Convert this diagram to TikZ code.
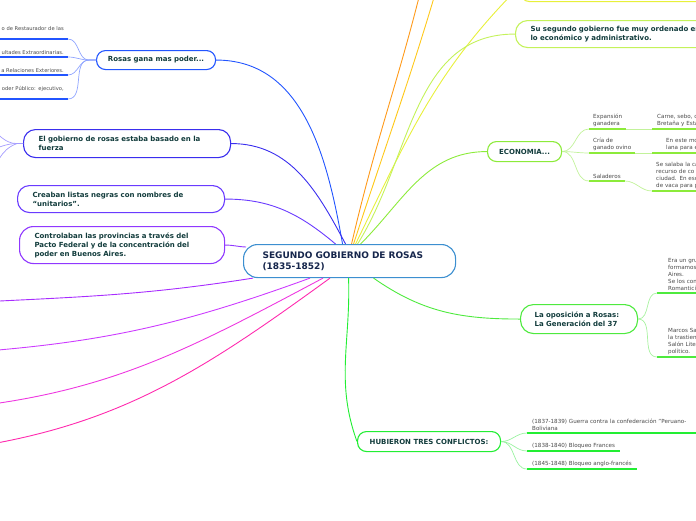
\documentclass[tikz,border=0pt]{standalone}
\usepackage{fontspec}
\setmainfont{DejaVu Sans}
\usepackage{tikz}
\usetikzlibrary{positioning, calc}
\usepackage{xcolor}
\definecolor{TopicText}{HTML}{123C3C}
\definecolor{CentralText}{HTML}{16264C}
\definecolor{LeafText}{HTML}{4A4A4A}
\definecolor{CentralBlue}{HTML}{3C8FD0}
\definecolor{PowerBlue}{HTML}{2255FF}
\definecolor{PowerLight}{HTML}{8FA4FF}
\definecolor{ForceBlue}{HTML}{3A2EEE}
\definecolor{ForceLight}{HTML}{A49CFF}
\definecolor{ListViolet}{HTML}{6A3BFF}
\definecolor{PactPurple}{HTML}{9038FF}
\definecolor{PinkA}{HTML}{A82CFF}
\definecolor{PinkB}{HTML}{CC3CFF}
\definecolor{PinkC}{HTML}{EE38E0}
\definecolor{PinkD}{HTML}{FF2AAE}
\definecolor{OffOrange}{HTML}{FF9A1A}
\definecolor{OffGold}{HTML}{FFC81A}
\definecolor{OffYellow}{HTML}{E8F03A}
\definecolor{OrderLime}{HTML}{C4F25A}
\definecolor{EcoGreen}{HTML}{8CEB3A}
\definecolor{EcoLight}{HTML}{C2F29A}
\definecolor{OppGreen}{HTML}{4EEA3E}
\definecolor{OppLight}{HTML}{A8F2A0}
\definecolor{WarGreen}{HTML}{22EE33}
\definecolor{WarLight}{HTML}{99F2A0}

\tikzset{
  topic/.style={draw=#1, line width=1.1pt, rounded corners=9pt, fill=white,
    text=TopicText, font=\fontsize{7}{9}\selectfont\bfseries,
    inner xsep=15pt, inner ysep=0pt, align=left, anchor=north west},
  branch/.style={draw=#1, line width=0.9pt},
  leaf/.style={text=LeafText, font=\fontsize{5.6}{7}\selectfont,
    inner xsep=4pt, inner ysep=2pt, align=left, anchor=south west},
  leftleaf/.style={leaf, font=\fontsize{5.2}{6.8}\selectfont,
    anchor=south east, align=right, text width=80pt},
  underline/.style={draw=#1, line width=1.3pt},
}

\begin{document}
\begin{tikzpicture}[x=1pt, y=1pt]
  \useasboundingbox (0,0) rectangle (696,-520);
  \clip (0,0) rectangle (696,-520);

  \node[topic=CentralBlue, rounded corners=14pt, text=CentralText,
        font=\fontsize{9}{11}\selectfont\bfseries, inner xsep=19pt,
        text width=174pt, minimum height=33pt] (ctr) at (243,-244)
        {SEGUNDO GOBIERNO DE ROSAS\\(1835-1852)};

  % left side
  \node[topic=PowerBlue, inner xsep=8pt, align=center, minimum width=119pt,
        minimum height=19pt] (rosas) at (96,-50) {Rosas gana mas poder...};
  \node[topic=ForceBlue, rounded corners=12pt, text width=177pt,
        minimum height=28pt] (gob) at (23,-129)
        {El gobierno de rosas estaba basado en la\\fuerza};
  \node[topic=ListViolet, rounded corners=12pt, text width=177pt,
        minimum height=27pt] (lists) at (17,-185)
        {Creaban listas negras con nombres de\\``unitarios''.};
  \node[topic=PactPurple, rounded corners=14pt, text width=175pt,
        minimum height=37pt] (pact) at (19,-226)
        {Controlaban las provincias a través del\\Pacto Federal y de la concentración del\\poder en Buenos Aires.};

  \node[leftleaf] (title) at (68,-39) {o de Restaurador de las\\ \mbox{}};
  \node[leftleaf] (faculty) at (68,-57) {ultades Extraordinarias.};
  \node[leftleaf] (foreign) at (68,-75) {a Relaciones Exteriores.};
  \node[leftleaf] (public) at (68,-99) {oder Público: ejecutivo,\\ \mbox{}};

  \coordinate (forceA) at (-12,-127);
  \coordinate (forceB) at (-12,-150);
  \coordinate (forceC) at (-12,-180);

  \coordinate (offP1) at (-40,-303);
  \coordinate (offP2) at (-40,-353);
  \coordinate (offP3) at (-40,-408);
  \coordinate (offP4) at (-40,-449);

  % right side
  \node[topic=OffYellow, minimum width=250pt, minimum height=31pt] (upper) at (520,30) {};
  \node[topic=OrderLime, rounded corners=12pt, text width=220pt,
        minimum height=27pt] (order) at (515,-20)
        {Su segundo gobierno fue muy ordenado en\\lo económico y administrativo.};
  \node[topic=EcoGreen, inner xsep=8pt, align=center, minimum width=74pt,
        minimum height=20pt] (eco) at (487,-141) {ECONOMIA...};
  \node[topic=OppGreen, rounded corners=13pt, inner xsep=14pt, text width=89pt,
        minimum height=29pt] (opp) at (520,-304)
        {La oposición a Rosas:\\La Generación del 37};
  \node[topic=WarGreen, inner xsep=8pt, align=center, minimum width=143pt,
        minimum height=20pt] (war) at (357,-431) {HUBIERON TRES CONFLICTOS:};

  \coordinate (offO) at (428,40);
  \coordinate (offG) at (445,40);

  \node[leaf] (expan) at (589,-129) {Expansión\\ganadera};
  \node[leaf] (sheep) at (589,-153) {Cría de\\ganado ovino};
  \node[leaf] (salt) at (589,-181) {Saladeros};
  \node[leaf, inner xsep=5pt, text width=60pt] (meat) at (652,-129)
        {Carne, sebo, c\\Bretaña y Esta};
  \node[leaf, inner xsep=14pt, text width=50pt] (wool) at (652,-153)
        {En este mo\\lana para e};
  \node[leaf, inner xsep=4pt, text width=60pt] (salted) at (652,-191)
        {Se salaba la ca\\ recurso de co\\ciudad. En eso\\de vaca para p};

  \node[leaf, inner xsep=11pt, text width=40pt] (youth) at (657,-293)
        {Era un gru\\formamos\\Aires.\\Se los con\\Romanticis};
  \node[leaf, inner xsep=11pt, text width=40pt] (salon) at (657,-357)
        {Marcos Sa\\la trastien\\Salón Lite\\político.};

  \node[leaf, inner xsep=5pt, text width=170pt] (peru) at (527,-433)
        {(1837-1839) Guerra contra la confederación "Peruano-\\Boliviana};
  \node[leaf, inner xsep=5pt] (france) at (527,-451) {(1838-1840) Bloqueo Frances};
  \node[leaf, inner xsep=5pt] (anglo) at (527,-469) {(1845-1848) Bloqueo anglo-francés};

  % connectors
  \draw[branch=PowerBlue] (rosas.east) to[out=0, in=100] ($(ctr.north)+(-7,0)$);
  \draw[branch=ForceBlue] (gob.east) to[out=0, in=118] ($(ctr.north)+(-4,0)$);
  \draw[branch=ListViolet] (lists.east) to[out=0, in=140] ($(ctr.north)+(-14,0)$);
  \draw[branch=PactPurple] (pact.east) to[out=0, in=178] ($(ctr.north west)+(3,-3)$);
  \draw[branch=PinkA] ($(ctr.south west)+(10,0)$) to[out=189, in=3] (offP1);
  \draw[branch=PinkB] ($(ctr.south west)+(67,0)$) to[out=200, in=4] (offP2);
  \draw[branch=PinkC] ($(ctr.south west)+(80,0)$) to[out=208, in=6] (offP3);
  \draw[branch=PinkD] ($(ctr.south west)+(87,0)$) to[out=216, in=8] (offP4);
  \draw[branch=WarGreen] ($(ctr.south)+(-1,0)$) to[out=-88, in=110] (war.west);

  \draw[branch=OffOrange] ($(ctr.north)+(2,0)$) to[out=77, in=-103] (offO);
  \draw[branch=OffGold] ($(ctr.north)+(4,0)$) to[out=72, in=-106] (offG);
  \draw[branch=OffYellow] ($(ctr.north)+(6,0)$) to[out=64, in=225] (upper.west);
  \draw[branch=OrderLime] ($(ctr.north)+(8,0)$) to[out=58, in=180] (order.west);
  \draw[branch=EcoGreen] ($(ctr.north)+(11,0)$) to[out=45, in=180] (eco.west);
  \draw[branch=OppGreen] ($(ctr.south)+(24,0)$) to[out=-35, in=180] (opp.west);

  \foreach \leafnode in {title, faculty, foreign, public} {
    \draw[underline=PowerBlue] (\leafnode.south west) -- (\leafnode.south east);
    \draw[branch=PowerLight, line width=0.7pt] (rosas.west) -- ++(-7,0)
      to[out=180, in=0] (\leafnode.south east);
  }
  \draw[branch=ForceLight, line width=0.7pt] (gob.west) -- ++(-6,0) to[out=180, in=-30] (forceA);
  \draw[branch=ForceLight, line width=0.7pt] (gob.west) -- ++(-6,0) to[out=180, in=10] (forceB);
  \draw[branch=ForceLight, line width=0.7pt] (gob.west) -- ++(-6,0) to[out=200, in=60] (forceC);

  \foreach \leafnode in {expan, sheep, salt} {
    \draw[underline=EcoGreen] (\leafnode.south west) -- (\leafnode.south east);
    \draw[branch=EcoLight, line width=0.7pt] (eco.east) to[out=0, in=180] (\leafnode.south west);
  }
  \foreach \leafnode in {meat, wool, salted}
    \draw[underline=EcoGreen] (\leafnode.south west) -- (\leafnode.south east);
  \draw[branch=EcoLight, line width=1pt] (expan.south east) -- (meat.south west);
  \draw[branch=EcoLight, line width=1pt] (sheep.south east) -- (wool.south west);
  \draw[branch=EcoLight, line width=0.7pt] (salt.south east) to[out=0, in=180] (salted.south west);

  \foreach \leafnode in {youth, salon} {
    \draw[underline=OppGreen] (\leafnode.south west) -- (\leafnode.south east);
    \draw[branch=OppLight, line width=0.7pt] (opp.east) to[out=0, in=180] (\leafnode.south west);
  }
  \foreach \leafnode in {peru, france, anglo} {
    \draw[underline=WarGreen] (\leafnode.south west) -- (\leafnode.south east);
    \draw[branch=WarLight, line width=0.7pt] (war.east) to[out=0, in=180] (\leafnode.south west);
  }
\end{tikzpicture}
\end{document}
